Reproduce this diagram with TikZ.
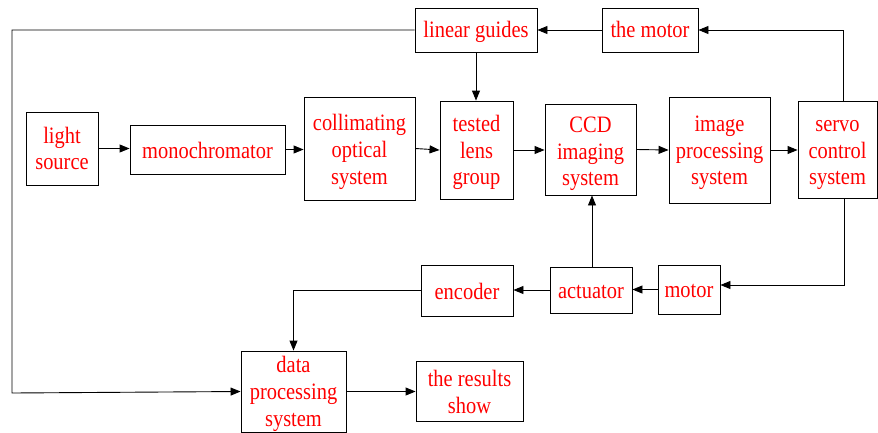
\documentclass[tikz,border=0pt]{standalone}
\usepackage{fontspec}
\setmainfont{Liberation Serif}[FakeStretch=0.87]
\usetikzlibrary{arrows.meta}
\newcommand{\bt}[2][-9.5pt]{\smash{\raisebox{#1}{\begin{tabular}{@{}c@{}}#2\end{tabular}}}}
\begin{document}
\begin{tikzpicture}[x=1pt,y=-1pt,
  blk/.style={draw=black, line width=0.9pt, text=red, inner sep=0pt,
    font=\fontsize{23.5}{26.8}\selectfont},
  arr/.style={draw=black, line width=0.9pt, -{Triangle[length=10pt,width=8pt]}}]
\useasboundingbox (0,0) rectangle (878,432);
\node[blk, minimum width=122pt, minimum height=44pt] (lg) at (476,30) {\bt[-8.8pt]{linear guides}};
\node[blk, minimum width=96pt, minimum height=44pt] (tm) at (650,30) {\bt[-8.8pt]{the motor}};
\node[blk, minimum width=72pt, minimum height=73pt] (ls) at (62,148.5) {\bt[-8.8pt]{light\\source}};
\node[blk, minimum width=155pt, minimum height=49pt] (mono) at (207.5,149.5) {\bt{monochromator}};
\node[blk, minimum width=111pt, minimum height=103pt] (col) at (359.5,148.5) {\bt[-9.9pt]{collimating\\optical\\system}};
\node[blk, minimum width=73pt, minimum height=98pt] (tlg) at (476.5,150) {\bt[-9pt]{tested\\lens\\group}};
\node[blk, minimum width=91pt, minimum height=91pt] (ccd) at (590.5,149.5) {\bt[-10.5pt]{CCD\\imaging\\system}};
\node[blk, minimum width=101pt, minimum height=106pt] (ip) at (719.5,150) {\bt[-9pt]{image\\processing\\system}};
\node[blk, minimum width=79pt, minimum height=97pt] (scs) at (837.5,149.5) {\bt{servo\\control\\system}};
\node[blk, minimum width=92pt, minimum height=51pt] (enc) at (467,290.5) {\bt{encoder}};
\node[blk, minimum width=82pt, minimum height=46pt] (act) at (591,290) {\bt[-9pt]{actuator}};
\node[blk, minimum width=62pt, minimum height=49pt] (mot) at (689,289.5) {\bt[-9pt]{motor}};
\node[blk, minimum width=105pt, minimum height=81pt] (dps) at (293.5,391.5) {\bt[-9.1pt]{data\\processing\\system}};
\node[blk, minimum width=107pt, minimum height=60pt] (trs) at (469.5,391) {\bt[-9.9pt]{the results\\show}};
\coordinate (c1) at (12,30);
\coordinate (c2) at (12,393);
\draw[arr] (lg.west) -- (c1) -- (c2) -- (dps.west);
\draw[arr] (tm.west) -- (lg.east);
\draw[arr] ([xshift=5.5pt]scs.north) |- (tm.east);
\draw[arr] (lg.south) -- (lg.south |- tlg.north);
\draw[arr] (ls.east) -- (mono.west |- ls.east);
\draw[arr] (mono.east) -- (col.west |- mono.east);
\draw[arr] (col.east) -- (tlg.west);
\draw[arr] (tlg.east) -- (ccd.west |- tlg.east);
\draw[arr] (ccd.east) -- (ip.west);
\draw[arr] (ip.east) -- (scs.west |- ip.east);
\draw[arr] ([xshift=6.5pt]scs.south) |- ([yshift=4.5pt]mot.east);
\draw[arr] (mot.west) -- (act.east |- mot.west);
\draw[arr] (act.west) -- (enc.east |- act.west);
\draw[arr] ([xshift=1pt]act.north) -- ([xshift=1pt]act.north |- ccd.south);
\draw[arr] (enc.west) -| (dps.north);
\draw[arr] (dps.east) -- (trs.west |- dps.east);
\end{tikzpicture}
\end{document}
